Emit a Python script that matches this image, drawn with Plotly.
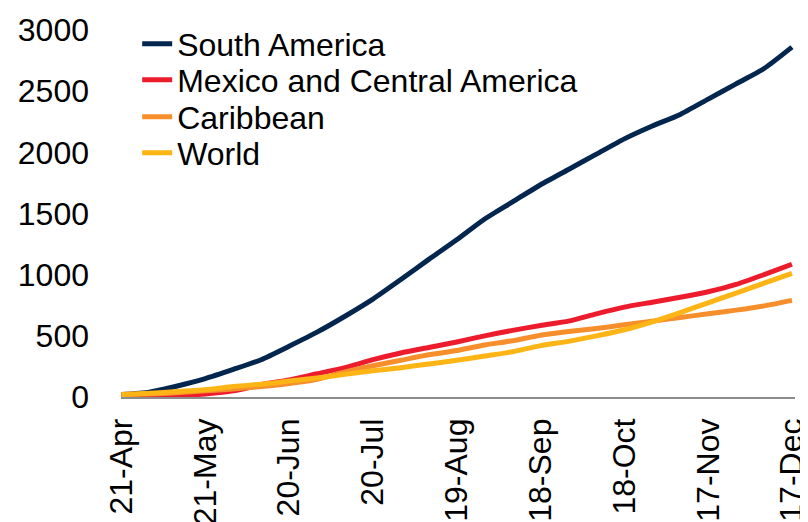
import plotly.graph_objects as go

dates = ["2020-04-21", "2020-05-01", "2020-05-11", "2020-05-21", "2020-05-31",
         "2020-06-10", "2020-06-20", "2020-06-30", "2020-07-10", "2020-07-20",
         "2020-07-30", "2020-08-09", "2020-08-19", "2020-08-29", "2020-09-08",
         "2020-09-18", "2020-09-28", "2020-10-08", "2020-10-18", "2020-10-28",
         "2020-11-07", "2020-11-17", "2020-11-27", "2020-12-07", "2020-12-17"]

south_america = [20, 40, 90, 150, 225, 305, 415, 530, 660, 800, 960, 1125, 1285,
                 1455, 1595, 1735, 1860, 1985, 2110, 2215, 2310, 2435, 2560, 2685, 2860]
mexico_central = [0, 3, 10, 25, 50, 100, 140, 190, 240, 305, 360, 405, 450,
                  500, 545, 585, 620, 680, 735, 775, 815, 860, 920, 1000, 1085]
caribbean = [20, 25, 35, 50, 65, 85, 110, 145, 205, 255, 300, 345, 380,
             425, 460, 505, 535, 560, 590, 620, 650, 680, 710, 745, 790]
world = [20, 30, 45, 60, 85, 105, 130, 155, 185, 215, 240, 270, 300,
         335, 370, 420, 455, 500, 550, 615, 690, 770, 850, 930, 1010]

series_names = ["South America", "Mexico and Central America", "Caribbean", "World"]
tick_dates = ["2020-04-21", "2020-05-21", "2020-06-20", "2020-07-20", "2020-08-19",
              "2020-09-18", "2020-10-18", "2020-11-17", "2020-12-17"]
tick_labels = ["21-Apr", "21-May", "20-Jun", "20-Jul", "19-Aug",
               "18-Sep", "18-Oct", "17-Nov", "17-Dec"]
y_ticks = [0, 500, 1000, 1500, 2000, 2500, 3000]

colors = ["#03264F", "#EC1C2D", "#F68E2C", "#FDB515"]
values = [south_america, mexico_central, caribbean, world]

font_family = "Arial, Liberation Sans, sans-serif"

# page body has an 8px margin, so the figure is 800x514 placed at (8, 8)
W, H = 800, 514
ML, MT, PW, PH = 113, 22, 674, 367
legend_ys = [0.962, 0.864, 0.763, 0.665]
legend_names = ["legend", "legend2", "legend3", "legend4"]

fig = go.Figure()
for name, vals, col, lg in zip(series_names, values, colors, legend_names):
    fig.add_trace(go.Scatter(x=dates, y=vals, name=name, mode="lines",
                             line=dict(color=col, width=5, shape="spline", smoothing=0.6),
                             legend=lg))

legend_common = dict(x=0.024, xanchor="left", yanchor="middle",
                     font=dict(size=32, family=font_family, color="black"),
                     bgcolor="rgba(0,0,0,0)", itemwidth=30)
layout_legends = {lg: dict(y=ly, **legend_common) for lg, ly in zip(legend_names, legend_ys)}

fig.update_layout(
    width=W, height=H,
    margin=dict(l=ML, r=W - ML - PW, t=MT, b=H - MT - PH, autoexpand=False),
    paper_bgcolor="white", plot_bgcolor="white",
    font=dict(family=font_family, color="black"),
    showlegend=True,
    **layout_legends,
)
fig.update_xaxes(
    type="date",
    range=["2020-04-20 20:00", "2020-12-18 02:00"],
    tickvals=tick_dates, ticktext=tick_labels, tickangle=-90,
    tickfont=dict(size=32, family=font_family, color="black"),
    showgrid=False, zeroline=False,
    showline=True, linecolor="#8c8c8c", linewidth=1.5,
    ticks="", ticklabelstandoff=7, ticklabeloverflow="allow", automargin=False,
)
fig.update_yaxes(
    range=[0, 3000], tickvals=y_ticks,
    tickfont=dict(size=32, family=font_family, color="black"),
    showgrid=False, zeroline=False, showline=False,
    ticks="", ticklabelstandoff=31, automargin=False,
)

fig.write_html("out.html")
